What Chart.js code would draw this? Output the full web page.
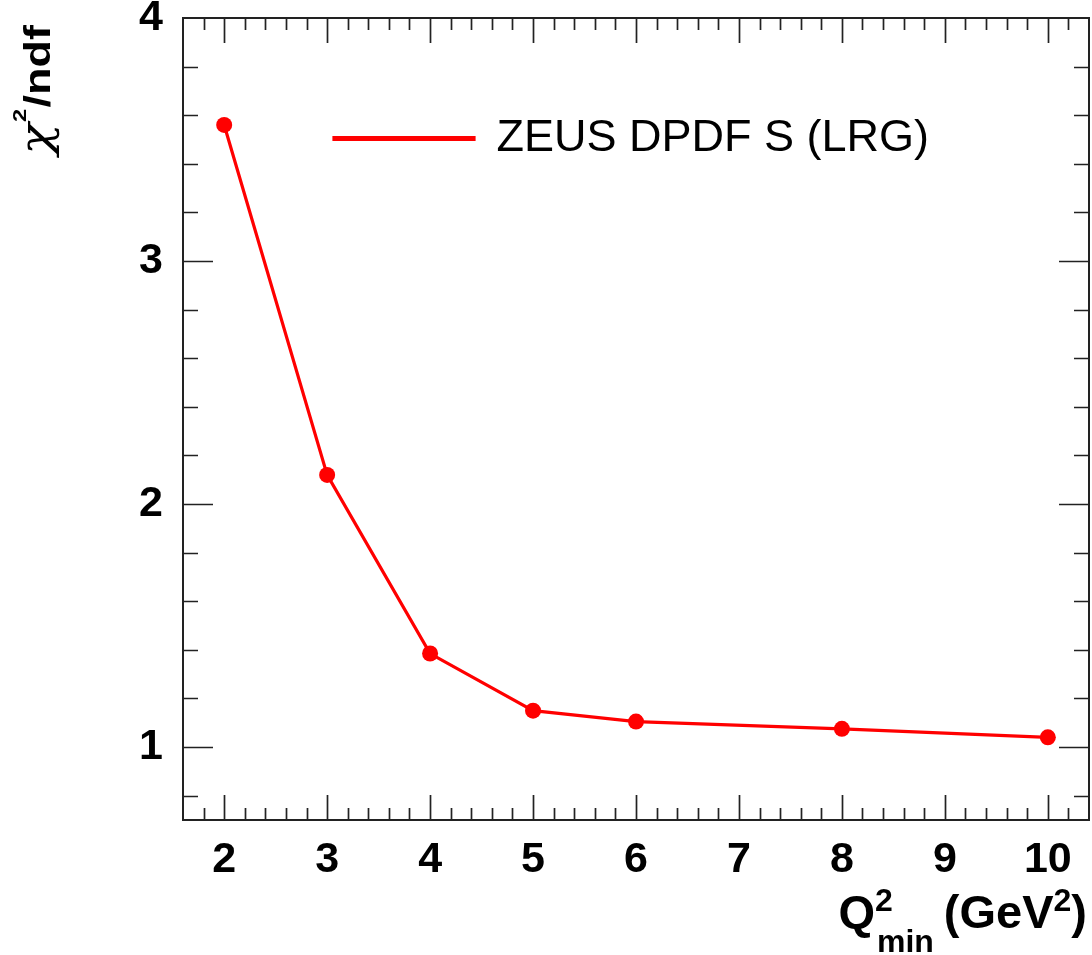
<!DOCTYPE html>
<html>
<head>
<meta charset="utf-8">
<script src="https://cdn.jsdelivr.net/npm/chart.js@4/dist/chart.umd.min.js"></script>
<style>
  html, body { margin: 0; padding: 0; background: #fff; }
  #wrap { width: 1092px; height: 955px; }
</style>
</head>
<body>
<div id="wrap"><canvas id="chart"></canvas></div>
<script>
// values
const qMin = [2, 3, 4, 5, 6, 8, 10];
const chi2ndf = [3.56, 2.12, 1.385, 1.15, 1.105, 1.075, 1.04];
const seriesLabel = 'ZEUS DPDF S (LRG)';
const xTickValues = [2, 3, 4, 5, 6, 7, 8, 9, 10];
const yTickValues = [1, 2, 3, 4];

const FONT = '"Liberation Sans", Arial, Helvetica, sans-serif';

// ROOT style frame with inward ticks on all four sides
const rootFrame = {
    id: 'rootFrame',
    afterLayout(chart) {
        // legend sits inside the frame, placed like the original
        const lg = chart.legend;
        const a = chart.chartArea;
        const dx = a.left + 151 - 98 - lg.left;
        const dy = a.top - lg.top;
        lg.left += dx; lg.right += dx;
        lg.top += dy; lg.bottom += dy;
    },
    beforeDatasetsDraw(chart) {
        const ctx = chart.ctx;
        const a = chart.chartArea;
        const xs = chart.scales.x, ys = chart.scales.y;
        ctx.save();
        ctx.strokeStyle = '#222';
        ctx.lineWidth = 1.7;
        ctx.beginPath();
        for (let i = 0; i <= 44; i++) {
            const v = Math.round((1.6 + i * 0.2) * 10) / 10;
            if (v <= xs.min || v >= xs.max) continue;
            const major = Math.abs(v - Math.round(v)) < 1e-6;
            const len = major ? 25 : 12;
            const px = Math.round(xs.getPixelForValue(v)) + 0.5;
            ctx.moveTo(px, a.bottom); ctx.lineTo(px, a.bottom - len);
            ctx.moveTo(px, a.top); ctx.lineTo(px, a.top + len);
        }
        for (let i = 0; i <= 17; i++) {
            const v = Math.round((0.7 + i * 0.2 + 0.1) * 10) / 10;
            if (v <= ys.min || v >= ys.max) continue;
            const major = Math.abs(v - Math.round(v)) < 1e-6;
            const len = major ? 30 : 15;
            const py = Math.round(ys.getPixelForValue(v)) + 0.5;
            ctx.moveTo(a.left, py); ctx.lineTo(a.left + len, py);
            ctx.moveTo(a.right, py); ctx.lineTo(a.right - len, py);
        }
        ctx.stroke();
        ctx.lineWidth = 2;
        ctx.strokeRect(a.left, a.top, a.right - a.left, a.bottom - a.top);
        ctx.restore();
    },
    afterDraw(chart) {
        const ctx = chart.ctx;
        const a = chart.chartArea;
        ctx.save();
        ctx.fillStyle = '#000';
        ctx.textBaseline = 'alphabetic';

        // x title: Q^2_min (GeV^2), right aligned to the frame
        const big = 'bold 47px ' + FONT, small = 'bold 32px ' + FONT;
        let x = a.right - 2;
        const base = 928;
        ctx.textAlign = 'right';
        ctx.font = big; ctx.fillText(')', x, base); x -= ctx.measureText(')').width;
        ctx.font = small; ctx.fillText('2', x, base - 17); x -= ctx.measureText('2').width;
        ctx.font = big; ctx.fillText('(GeV', x, base); x -= ctx.measureText('(GeV').width;
        x -= 10;
        ctx.font = small; const wMin = ctx.measureText('min').width;
        ctx.textAlign = 'left';
        const subX = x - wMin;
        ctx.fillText('min', subX, 952);
        ctx.font = big; const wQ = ctx.measureText('Q').width;
        const qX = subX - 4 - wQ + 2;
        ctx.fillText('Q', qX, base);
        ctx.font = small; ctx.fillText('2', qX + wQ, base - 17);

        // y title: chi^2/ndf, rotated, top aligned
        ctx.translate(50, 25);
        ctx.rotate(-Math.PI / 2);
        const chiF = 'italic 42px "DejaVu Serif", serif', supF = 'bold 19px ' + FONT, ndfF = 'bold 36px ' + FONT;
        ctx.font = chiF; const wChi = ctx.measureText('\u03c7').width;
        ctx.font = supF; const wSup = ctx.measureText('2').width;
        ctx.font = ndfF; const wNdf = ctx.measureText('/ndf').width;
        const sx = 130 / (wChi + wSup + wNdf + 2);
        ctx.scale(sx, 1);
        ctx.textAlign = 'left';
        let t = -(wChi + wSup + wNdf + 2);
        ctx.font = chiF; ctx.fillText('\u03c7', t, 0); t += wChi + 1;
        ctx.font = supF; ctx.fillText('2', t, -24); t += wSup + 1;
        ctx.font = ndfF; ctx.fillText('/ndf', t, 0);
        ctx.restore();
    }
};

const points = qMin.map((q, i) => ({ x: q, y: chi2ndf[i] }));

new Chart(document.getElementById('chart'), {
    type: 'line',
    data: {
        datasets: [{
            label: seriesLabel,
            data: points,
            borderColor: '#ff0000',
            backgroundColor: '#ff0000',
            borderWidth: 3.2,
            pointRadius: 8,
            pointBorderWidth: 0,
            pointBackgroundColor: '#ff0000',
            tension: 0,
        }]
    },
    options: {
        responsive: true,
        maintainAspectRatio: false,
        animation: false,
        layout: { autoPadding: false, padding: { top: 18, right: 3, left: 0, bottom: 0 } },
        plugins: {
            tooltip: { enabled: false },
            legend: {
                position: 'chartArea',
                align: 'start',
                labels: {
                    boxWidth: 140,
                    boxHeight: 2,
                    padding: 98,
                    color: '#000',
                    font: { family: FONT, size: 45 },
                }
            }
        },
        scales: {
            x: {
                type: 'linear',
                min: 1.6,
                max: 10.4,
                grid: { display: false, drawTicks: false },
                border: { display: false },
                afterBuildTicks: (s) => { s.ticks = xTickValues.map(v => ({ value: v })); },
                afterFit: (s) => { s.height = 135; s.paddingLeft = 0; s.paddingRight = 0; },
                ticks: {
                    padding: 14,
                    color: '#000',
                    font: { family: FONT, size: 43, weight: 'bold' },
                    callback: (v) => String(v),
                }
            },
            y: {
                min: 0.7,
                max: 4,
                grid: { display: false, drawTicks: false },
                border: { display: false },
                afterBuildTicks: (s) => { s.ticks = yTickValues.map(v => ({ value: v })); },
                afterFit: (s) => { s.width = 183; s.paddingTop = 0; s.paddingBottom = 0; },
                ticks: {
                    padding: 20,
                    color: '#000',
                    font: { family: FONT, size: 43, weight: 'bold' },
                    callback: (v) => String(v),
                }
            }
        }
    },
    plugins: [rootFrame]
});
</script>
</body>
</html>
